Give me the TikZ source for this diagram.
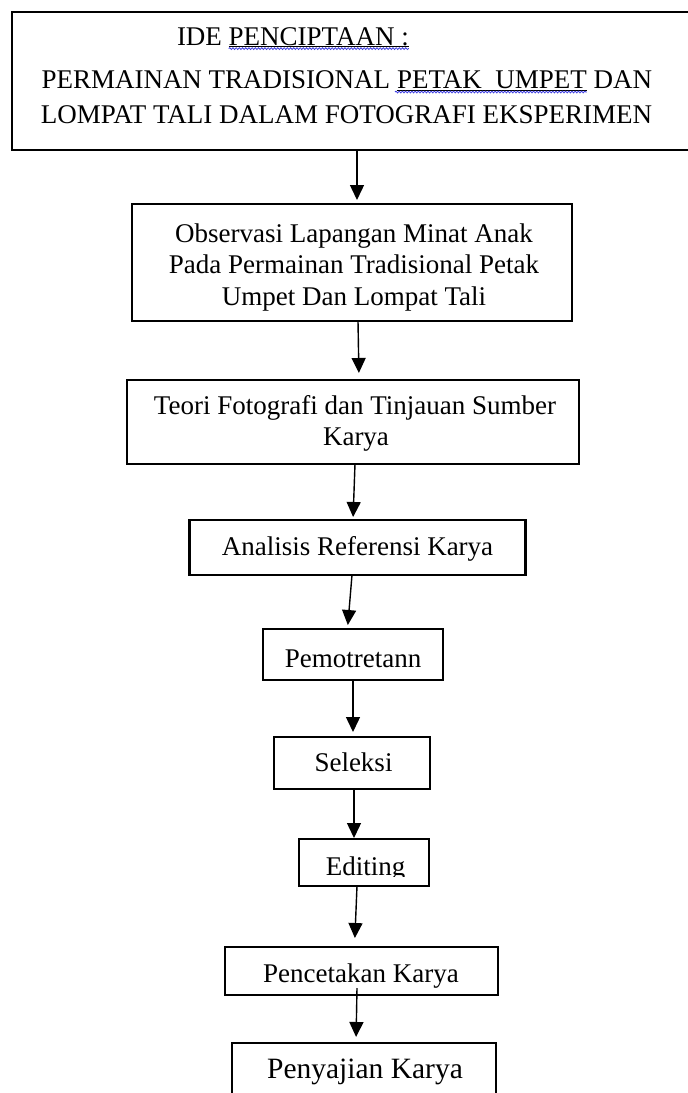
\documentclass[tikz,border=0pt]{standalone}
\usepackage{fontspec}
\setmainfont{Liberation Serif}
\usetikzlibrary{arrows.meta,decorations.pathmorphing}
\definecolor{spellblue}{RGB}{60,60,225}
\begin{document}
\begin{tikzpicture}[x=1pt,y=-1pt,
  box/.style={draw, line width=2.8pt, inner sep=0pt, outer sep=0pt},
  txt/.style={anchor=base, inner sep=0pt, outer sep=0pt, font=\fontsize{27}{32}\selectfont},
  arr/.style={line width=1.4pt, -{Triangle[width=14pt,length=15pt]}},
  uline/.style={line width=1pt},
  wavy/.style={spellblue, line width=0.8pt, decorate, decoration={snake, amplitude=0.9pt, segment length=3.2pt}}
]
\useasboundingbox (0,0) rectangle (688,1093);
\clip (0,0) rectangle (688,1093);
\fill[white] (0,0) rectangle (688,1093);

% boxes
\node[box, minimum width=688pt, minimum height=138pt] (b1) at (356,81) {};
\node[box, minimum width=440pt, minimum height=117pt] (b2) at (352,262.5) {};
\node[box, minimum width=452pt, minimum height=84pt] (b3) at (353,422) {};
\node[box, minimum width=336pt, minimum height=55pt] (b4) at (357.5,547.5) {};
\node[box, minimum width=180pt, minimum height=51pt] (b5) at (353,654.5) {};
\node[box, minimum width=156pt, minimum height=52pt] (b6) at (352,763) {};
\node[box, minimum width=130pt, minimum height=47pt] (b7) at (364,862.5) {};
\node[box, minimum width=273pt, minimum height=48pt] (b8) at (361.5,971) {};
\node[box, minimum width=264pt, minimum height=67pt] (b9) at (364,1076.5) {};

% box 1 text
\node[txt, anchor=base west] (t1a) at (177,45) {IDE};
\node[txt, anchor=base west] (t1b) at ([xshift=6.75pt]t1a.base east) {PENCIPTAAN :};
\node[txt, anchor=base west] (t2b) at (397,88) {PETAK\ \ UMPET};
\node[txt, anchor=base east] (t2a) at ([xshift=-6.75pt]t2b.base west) {PERMAINAN TRADISIONAL};
\node[txt, anchor=base west] (t2c) at ([xshift=6.75pt]t2b.base east) {DAN};
\node[txt] (t3) at (346.5,123) {LOMPAT TALI DALAM FOTOGRAFI EKSPERIMEN};
\draw[uline] ([yshift=-1.5pt]t1b.base west) -- ([yshift=-1.5pt]t1b.base east);
\draw[wavy] ([yshift=-3.6pt]t1b.base west) -- ([yshift=-3.6pt]t1b.base east);
\draw[uline] ([yshift=-2pt]t2b.base west) -- ([yshift=-2pt]t2b.base east);
\draw[wavy] ([yshift=-4pt,xshift=-2pt]t2b.base west) -- ([yshift=-4pt]t2b.base east);

% other texts
\node[txt] (t4) at (354,242) {Observasi Lapangan Minat Anak};
\node[txt] (t5) at (354,273.5) {Pada Permainan Tradisional Petak};
\node[txt] (t6) at (354,305) {Umpet Dan Lompat Tali};
\node[txt] (t7) at (355,414) {Teori Fotografi dan Tinjauan Sumber};
\node[txt] (t8) at (356,445) {Karya};
\node[txt] (t9) at (357.5,555) {Analisis Referensi Karya};
\node[txt] (t10) at (353,667) {Pemotretann};
\node[txt] (t11) at (353.5,771) {Seleksi};
\begin{scope}
\clip (295,842) rectangle (432,876.5);
\node[txt] (t12) at (365.5,875) {Editing};
\end{scope}
\node[txt] (t13) at (361,982) {Pencetakan Karya};
\node[txt, font=\fontsize{29.5}{34}\selectfont] (t14) at (365,1078) {Penyajian Karya};

% arrows
\draw[arr, shorten >=4pt] ([xshift=1pt]b1.south) -- ([xshift=5pt]b2.north);
\draw[arr, shorten >=7pt] ([xshift=6pt]b2.south) -- ([xshift=6pt]b3.north);
\draw[arr, shorten >=3pt] ([xshift=2pt]b3.south) -- ([xshift=-4.5pt]b4.north);
\draw[arr, shorten >=4pt] ([xshift=-5.5pt]b4.south) -- ([xshift=-5.5pt]b5.north);
\draw[arr, shorten >=5pt] ([xshift=0pt]b5.south) -- ([xshift=1pt]b6.north);
\draw[arr, shorten >=1pt] ([xshift=2pt]b6.south) -- ([xshift=-10pt]b7.north);
\draw[arr, shorten >=9pt] ([xshift=-7pt]b7.south) -- ([xshift=-7pt]b8.north);
\draw[arr, shorten >=6pt] ([xshift=-4.5pt,yshift=7pt]b8.south) -- ([xshift=-8pt]b9.north);
\end{tikzpicture}
\end{document}
